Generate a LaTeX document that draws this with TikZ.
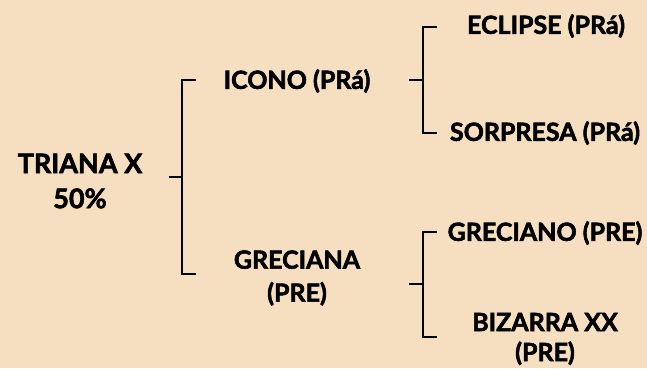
\documentclass[tikz,border=0pt]{standalone}
\usepackage{fontspec}
\setmainfont{Lato}[BoldFeatures={FakeBold=2.2}]
\begin{document}
\begin{tikzpicture}[x=1pt,y=-1pt,
  lbl/.style={font=\bfseries\fontsize{25}{33}\selectfont, text=black, align=center, inner sep=0pt},
  big/.style={font=\bfseries\fontsize{27}{35}\selectfont, text=black, align=center, inner sep=0pt},
  brk/.style={draw=black, line width=2.6pt}]
\fill[fill={rgb,255:red,245;green,223;blue,192}] (0,0) rectangle (647,368);
\useasboundingbox (0,0) rectangle (647,368);
\node[big] (triana) at (80,181) {TRIANA X\\50\%};
\node[lbl] (icono) at (297,81) {ICONO (PRá)};
\node[lbl] (greciana) at (297,278) {GRECIANA\\(PRE)};
\node[lbl] (eclipse) at (546,26) {ECLIPSE (PRá)};
\node[lbl] (sorpresa) at (545,133) {SORPRESA (PRá)};
\node[lbl] (greciano) at (545,233) {GRECIANO (PRE)};
\node[lbl, font=\bfseries\fontsize{25}{30}\selectfont] (bizarra) at (545,339) {BIZARRA XX\\(PRE)};
% bracket 1
\coordinate (b1t) at (196,80);
\coordinate (b1b) at (196,274);
\coordinate (b1m) at (169,177);
\draw[brk] (b1t) -- (182,80) -- (182,274) -- (b1b);
\draw[brk] (b1m) -- (182,177);
% bracket 2
\coordinate (b2t) at (437,27);
\coordinate (b2b) at (437,133);
\coordinate (b2m) at (409,80);
\draw[brk] (b2t) -- (423,27) -- (423,133) -- (b2b);
\draw[brk] (b2m) -- (423,80);
% bracket 3
\coordinate (b3t) at (437,232);
\coordinate (b3b) at (437,337);
\coordinate (b3m) at (409,284);
\draw[brk] (b3t) -- (423,232) -- (423,337) -- (b3b);
\draw[brk] (b3m) -- (423,284);
\end{tikzpicture}
\end{document}
